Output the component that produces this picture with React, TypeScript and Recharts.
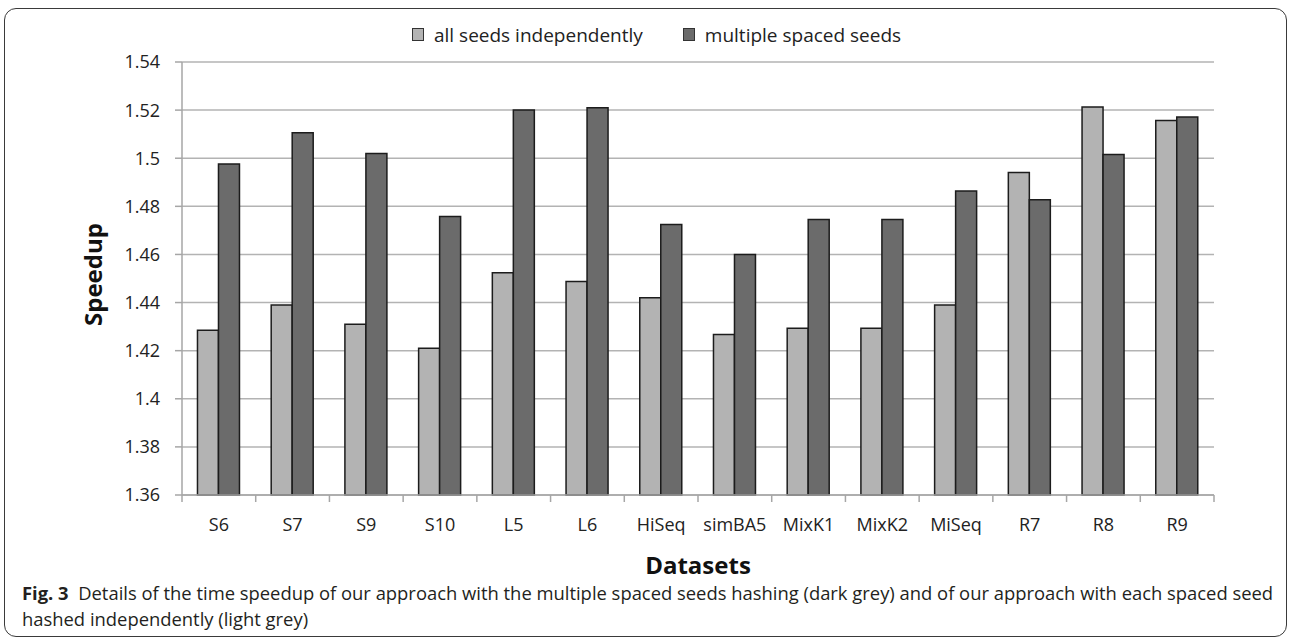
import React from 'react';
import { BarChart, Bar, XAxis, YAxis, CartesianGrid } from 'recharts';

const datasets = ['S6', 'S7', 'S9', 'S10', 'L5', 'L6', 'HiSeq', 'simBA5', 'MixK1', 'MixK2', 'MiSeq', 'R7', 'R8', 'R9'];
const allSeedsIndependently = [1.4285, 1.439, 1.431, 1.421, 1.4524, 1.4488, 1.442, 1.4267, 1.4293, 1.4293, 1.439, 1.4941, 1.5213, 1.5157];
const multipleSpacedSeeds = [1.4976, 1.5106, 1.502, 1.4758, 1.52, 1.521, 1.4724, 1.46, 1.4745, 1.4745, 1.4864, 1.4827, 1.5015, 1.5171];
const yTicks = [1.36, 1.38, 1.4, 1.42, 1.44, 1.46, 1.48, 1.5, 1.52, 1.54];

const LIGHT = '#b3b3b3';
const DARK = '#6b6b6b';
const FONT = '"Open Sans", sans-serif';

const data = datasets.map((name, i) => ({
    name,
    independent: allSeedsIndependently[i],
    multiple: multipleSpacedSeeds[i],
}));

// x ticks sit on the category boundaries, labels in the middle
const XTick = (props: any) => {
    const { x, y, payload, index, visibleTicksCount } = props;
    const half = payload.offset || 0;
    return (
        <g>
            <line x1={x - half} x2={x - half} y1={y} y2={y + 7} stroke="#a6a6a6" strokeWidth={1.5} />
            {index === visibleTicksCount - 1 && (
                <line x1={x + half} x2={x + half} y1={y} y2={y + 7} stroke="#a6a6a6" strokeWidth={1.5} />
            )}
            <text x={x} y={y + 36} textAnchor="middle" fill="#222" fontSize={18} fontFamily={FONT}>
                {payload.value}
            </text>
        </g>
    );
};

const LegendItem = ({ color, label }: { color: string; label: string }) => (
    <span style={{ display: 'inline-flex', alignItems: 'center', marginRight: 40 }}>
        <span style={{ width: 10, height: 11, background: color, border: '1px solid #333', marginRight: 10, display: 'inline-block' }} />
        <span>{label}</span>
    </span>
);

const App: React.FC = () => {
    return (
        <div style={{ position: 'absolute', left: 0, top: 0, width: 1290, height: 640, background: '#fff', overflow: 'hidden' }}>
            {/* card border */}
            <div style={{ position: 'absolute', left: 4, top: 8, width: 1281, height: 627, border: '1.5px solid #3a3a3a', borderRadius: 12 }} />

            {/* legend */}
            <div style={{ position: 'absolute', left: 412, top: 21, fontFamily: FONT, fontSize: 19, color: '#222', whiteSpace: 'nowrap', lineHeight: '26px' }}>
                <LegendItem color={LIGHT} label="all seeds independently" />
                <LegendItem color={DARK} label="multiple spaced seeds" />
            </div>

            <div style={{ position: 'absolute', left: 0, top: 0 }}>
                <BarChart width={1290} height={580} data={data} margin={{ top: 62, right: 76, left: 80, bottom: 5 }} barCategoryGap="21%" barGap={0}>
                    <CartesianGrid vertical={false} stroke="#b3b3b3" strokeWidth={1.5} />
                    <XAxis
                        dataKey="name"
                        height={80}
                        tickLine={false}
                        tickSize={0}
                        tickMargin={0}
                        axisLine={{ stroke: '#a6a6a6', strokeWidth: 1.5 }}
                        tick={<XTick />}
                        interval={0}
                        label={{ value: 'Datasets', position: 'insideBottom', offset: 1, style: { fontFamily: FONT, fontSize: 24, fontWeight: 700, fill: '#111' } }}
                    />
                    <YAxis
                        width={102}
                        domain={[1.36, 1.54]}
                        ticks={yTicks}
                        interval={0}
                        tickSize={7}
                        tickMargin={15}
                        tickLine={{ stroke: '#a6a6a6', strokeWidth: 1.5 }}
                        axisLine={{ stroke: '#a6a6a6', strokeWidth: 1.5 }}
                        tick={{ fill: '#222', fontSize: 18, fontFamily: FONT }}
                        label={{ value: 'Speedup', angle: -90, position: 'insideLeft', offset: 13, dy: -4, style: { textAnchor: 'middle', fontFamily: FONT, fontSize: 24, fontWeight: 700, fill: '#111' } }}
                    />
                    <Bar dataKey="independent" fill={LIGHT} stroke="#1c1c1c" strokeWidth={1.5} isAnimationActive={false} />
                    <Bar dataKey="multiple" fill={DARK} stroke="#1c1c1c" strokeWidth={1.5} isAnimationActive={false} />
                </BarChart>
            </div>

            {/* caption */}
            <div style={{ position: 'absolute', left: 22, top: 580, fontFamily: FONT, fontSize: 18.4, color: '#231f20', lineHeight: '26px', whiteSpace: 'nowrap' }}>
                <b>Fig. 3</b>&nbsp;&nbsp;Details of the time speedup of our approach with the multiple spaced seeds hashing (dark grey) and of our approach with each spaced seed
                <br />
                hashed independently (light grey)
            </div>
        </div>
    );
};

export default App;
